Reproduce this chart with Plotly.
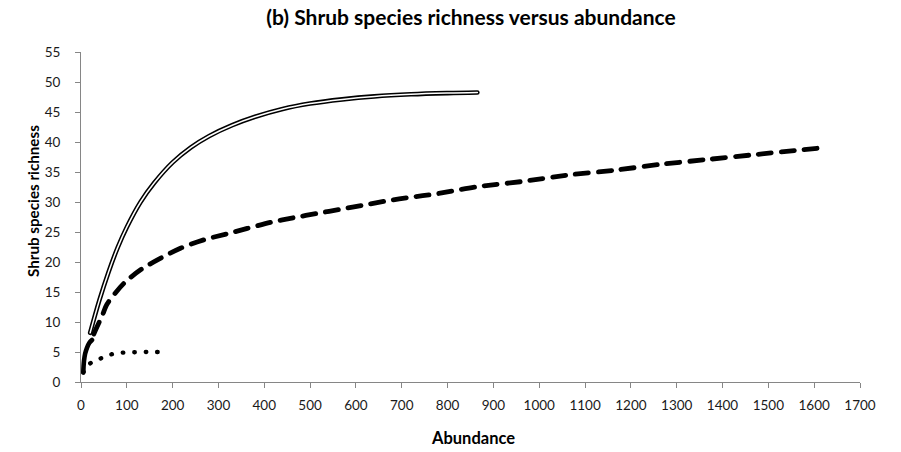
import plotly.graph_objects as go

# Rarefaction curves: shrub species richness against number of individuals
double_x = [20, 40, 60, 80, 100, 130, 160, 200, 240, 280, 330, 380, 440, 500, 570, 640, 720, 800, 865]
double_y = [8.2, 13.6, 18.3, 22.4, 25.8, 30.0, 33.2, 36.6, 39.1, 41.0, 42.8, 44.2, 45.5, 46.4,
            47.1, 47.6, 47.95, 48.15, 48.25]

dashed_x = [28, 35, 46, 57, 93, 130, 173, 217, 268, 319, 363, 414, 465, 516, 567, 618, 669,
            720, 771, 822, 870, 961, 1063, 1165, 1267, 1369, 1471, 1573, 1625]
dashed_y = [8.0, 9.2, 11.0, 13.0, 16.4, 18.7, 20.6, 22.3, 23.7, 24.7, 25.6, 26.6, 27.4, 28.1,
            28.8, 29.5, 30.2, 30.8, 31.3, 32.0, 32.6, 33.4, 34.5, 35.3, 36.3, 37.1, 37.9, 38.7, 39.1]

solid_x = [5, 5.5, 6.5, 9, 13, 18, 24]
solid_y = [1.6, 2.5, 3.5, 4.7, 5.7, 6.5, 7.0]

dotted_x = [5, 20, 42, 66, 92, 119, 145, 170]
dotted_y = [1.6, 3.1, 3.9, 4.6, 4.9, 4.95, 5.0, 5.0]

x_ticks = list(range(0, 1701, 100))
y_ticks = list(range(0, 56, 5))

FONT = "Lato"
AXIS_GREY = "#868686"

fig = go.Figure()

# double line: black stroke with a thin white core
fig.add_trace(go.Scatter(x=double_x, y=double_y, mode="lines",
                         line=dict(color="black", width=4.6, shape="spline", smoothing=1.0),
                         hoverinfo="skip", showlegend=False))
fig.add_trace(go.Scatter(x=double_x, y=double_y, mode="lines",
                         line=dict(color="white", width=1.5, shape="spline", smoothing=1.0),
                         hoverinfo="skip", showlegend=False))

fig.add_trace(go.Scatter(x=dashed_x, y=dashed_y, mode="lines",
                         line=dict(color="black", width=4.8, shape="spline", smoothing=0.8,
                                   dash="13px,10px"),
                         hoverinfo="skip", showlegend=False))

fig.add_trace(go.Scatter(x=solid_x, y=solid_y, mode="lines",
                         line=dict(color="black", width=4.6, shape="spline", smoothing=1.0),
                         hoverinfo="skip", showlegend=False))

fig.add_trace(go.Scatter(x=dotted_x, y=dotted_y, mode="lines",
                         line=dict(color="black", width=4.4, shape="spline", smoothing=1.0,
                                   dash="0.5px,11px"),
                         hoverinfo="skip", showlegend=False))

axis_common = dict(showline=True, linecolor=AXIS_GREY, linewidth=1, ticks="outside",
                   ticklen=5, tickcolor=AXIS_GREY, tickwidth=1, showgrid=False,
                   zeroline=False, tickfont=dict(family=FONT, size=13.5, color="#1a1a1a"))

fig.update_xaxes(range=[0, 1700], tickvals=x_ticks, ticktext=[str(v) for v in x_ticks],
                 ticklabelstandoff=6, **axis_common)
fig.update_yaxes(range=[0, 55], tickvals=y_ticks, ticktext=[str(v) for v in y_ticks],
                 ticklabelstandoff=12, **axis_common)

fig.update_layout(
    width=901, height=452,
    margin=dict(l=81, r=41, t=52, b=70),
    paper_bgcolor="white", plot_bgcolor="white",
    title=dict(text="<b>(b) Shrub species richness versus abundance</b>",
               x=471 / 901, y=1 - 18 / 452, xanchor="center", yanchor="middle",
               font=dict(family=FONT, size=21, color="black")),
    annotations=[
        dict(text="<b>Shrub species richness</b>", xref="paper", yref="paper",
             x=-0.0616, y=0.5485, showarrow=False, textangle=-90,
             xanchor="center", yanchor="middle",
             font=dict(family=FONT, size=15.2, color="black")),
        dict(text="<b>Abundance</b>", xref="paper", yref="paper",
             x=0.5026, y=-0.1697, showarrow=False,
             xanchor="center", yanchor="middle",
             font=dict(family=FONT, size=16.5, color="black")),
    ],
)

# round line caps so the dotted pattern draws as dots and line ends look rounded
post = """
var gd = document.getElementById('{plot_id}');
function roundCaps() {
  gd.querySelectorAll('.scatterlayer path.js-line').forEach(function (p) {
    p.style.strokeLinecap = 'round';
    p.style.strokeLinejoin = 'round';
  });
}
roundCaps();
gd.on('plotly_afterplot', roundCaps);
"""

fig.write_html("out.html", post_script=post)
